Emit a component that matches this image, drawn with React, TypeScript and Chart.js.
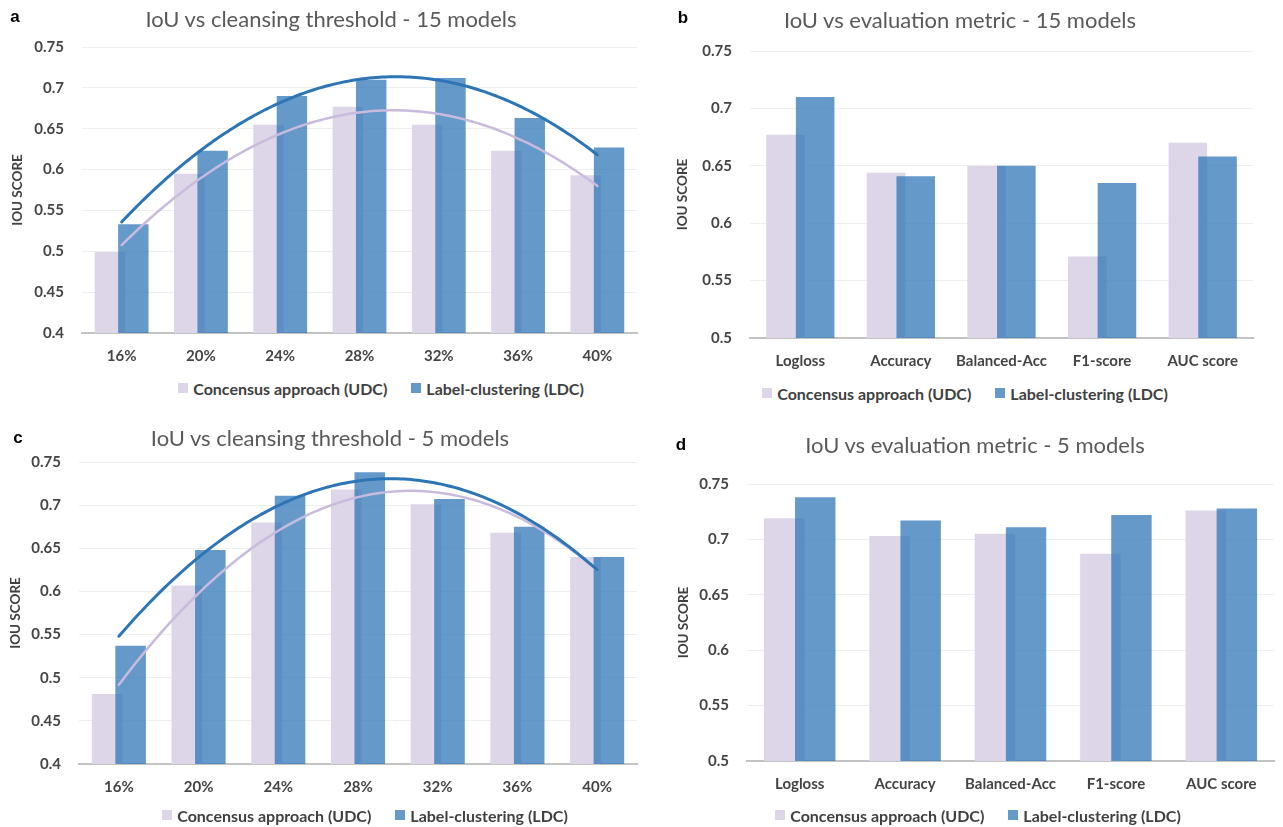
import React, { useEffect, useRef } from "react";
import { Chart, registerables } from "chart.js";

Chart.register(...registerables);

// ---------------- data ----------------
const thresholdLabels = ["16%", "20%", "24%", "28%", "32%", "36%", "40%"];
const metricLabels = ["Logloss", "Accuracy", "Balanced-Acc", "F1-score", "AUC score"];
const seriesNames = ["Concensus approach (UDC)", "Label-clustering (LDC)"];

const udcThreshold15 = [0.499, 0.595, 0.655, 0.677, 0.655, 0.623, 0.593];
const ldcThreshold15 = [0.533, 0.623, 0.69, 0.71, 0.712, 0.663, 0.627];

const udcMetric15 = [0.677, 0.644, 0.65, 0.571, 0.67];
const ldcMetric15 = [0.71, 0.641, 0.65, 0.635, 0.658];

const udcThreshold5 = [0.481, 0.607, 0.68, 0.718, 0.701, 0.668, 0.64];
const ldcThreshold5 = [0.537, 0.648, 0.711, 0.738, 0.707, 0.675, 0.64];

const udcMetric5 = [0.719, 0.703, 0.705, 0.687, 0.726];
const ldcMetric5 = [0.738, 0.717, 0.711, 0.722, 0.728];

// ---------------- styles ----------------
const UDC_COLOR = "#DDD5E8";
const LDC_COLOR = "rgba(46,117,182,0.74)";
const UDC_TREND = "#C9BBDE";
const LDC_TREND = "#2E75B6";
const FONT = "Lato, 'Open Sans', sans-serif";
const TICK_COLOR = "#444444";
const Y_TITLE_SIZE = 13.5;

type Rect = { left: number; top: number; width: number; height: number };
type Area = { left: number; right: number; top: number; bottom: number };
type PanelSpec = {
  letter: string;
  title: string;
  categories: string[];
  udc: number[];
  ldc: number[];
  yMin: number;
  yMax: number;
  trend: boolean;
  canvas: Rect;
  area: Area;
  titlePos: [number, number];
  letterPos: [number, number];
  legendPos: [number, number];
  yTitleX: number;
};

const panels: PanelSpec[] = [
  {
    letter: "a",
    title: "IoU vs cleansing threshold - 15 models",
    categories: thresholdLabels,
    udc: udcThreshold15,
    ldc: ldcThreshold15,
    yMin: 0.4,
    yMax: 0.75,
    trend: true,
    canvas: { left: 0, top: 0, width: 645, height: 375 },
    area: { left: 82, right: 637, top: 47, bottom: 333 },
    titlePos: [331, 19],
    letterPos: [15, 17],
    legendPos: [381, 388],
    yTitleX: 18,
  },
  {
    letter: "b",
    title: "IoU vs evaluation metric - 15 models",
    categories: metricLabels,
    udc: udcMetric15,
    ldc: ldcMetric15,
    yMin: 0.5,
    yMax: 0.75,
    trend: false,
    canvas: { left: 645, top: 0, width: 638, height: 375 },
    area: { left: 750, right: 1253, top: 51, bottom: 338 },
    titlePos: [960, 20],
    letterPos: [683, 18],
    legendPos: [965, 393],
    yTitleX: 683,
  },
  {
    letter: "c",
    title: "IoU vs cleansing threshold - 5 models",
    categories: thresholdLabels,
    udc: udcThreshold5,
    ldc: ldcThreshold5,
    yMin: 0.4,
    yMax: 0.75,
    trend: true,
    canvas: { left: 0, top: 405, width: 645, height: 400 },
    area: { left: 79, right: 637, top: 462, bottom: 764 },
    titlePos: [330, 438],
    letterPos: [18, 438],
    legendPos: [365, 815],
    yTitleX: 16,
  },
  {
    letter: "d",
    title: "IoU vs evaluation metric - 5 models",
    categories: metricLabels,
    udc: udcMetric5,
    ldc: ldcMetric5,
    yMin: 0.5,
    yMax: 0.75,
    trend: false,
    canvas: { left: 645, top: 405, width: 638, height: 400 },
    area: { left: 747, right: 1274, top: 484, bottom: 761 },
    titlePos: [975, 445],
    letterPos: [681, 445],
    legendPos: [978, 815],
    yTitleX: 684,
  },
];

// least-squares quadratic fit (Excel polynomial trendline, order 2)
function quadFit(vals: number[]): [number, number, number] {
  let s0 = 0, s1 = 0, s2 = 0, s3 = 0, s4 = 0, t0 = 0, t1 = 0, t2 = 0;
  vals.forEach((v, i) => {
    const x = i;
    s0 += 1; s1 += x; s2 += x * x; s3 += x * x * x; s4 += x * x * x * x;
    t0 += v; t1 += x * v; t2 += x * x * v;
  });
  const M = [
    [s0, s1, s2, t0],
    [s1, s2, s3, t1],
    [s2, s3, s4, t2],
  ];
  for (let c = 0; c < 3; c++) {
    for (let r = c + 1; r < 3; r++) {
      const f = M[r][c] / M[c][c];
      for (let k = c; k < 4; k++) M[r][k] -= f * M[c][k];
    }
  }
  const coef = [0, 0, 0];
  for (let r = 2; r >= 0; r--) {
    let s = M[r][3];
    for (let k = r + 1; k < 3; k++) s -= M[r][k] * coef[k];
    coef[r] = s / M[r][r];
  }
  return [coef[0], coef[1], coef[2]];
}

// draws the bars in dataset order (so the LDC bar sits over the UDC bar), then the trendlines
const orderedDrawPlugin = {
  id: "orderedDraw",
  beforeDatasetsDraw(chart: any, _args: any, opts: any) {
    const ctx = chart.ctx;
    const area = chart.chartArea;
    const metas = chart.getSortedVisibleDatasetMetas();
    ctx.save();
    ctx.beginPath();
    ctx.rect(area.left, area.top, area.right - area.left, area.bottom - area.top);
    ctx.clip();
    metas.forEach((m: any) => m.controller.draw());
    ctx.restore();
    if (opts && opts.trend) {
      const xs = chart.scales.x;
      const ys = chart.scales.y;
      chart.data.datasets.forEach((ds: any, i: number) => {
        const vals = ds.data as number[];
        const [a, b, c] = quadFit(vals);
        const n = vals.length;
        const steps = (n - 1) * 24;
        ctx.save();
        ctx.beginPath();
        for (let k = 0; k <= steps; k++) {
          const t = ((n - 1) * k) / steps;
          const v = a + b * t + c * t * t;
          const px = xs.getPixelForValue(t);
          const py = ys.getPixelForValue(v);
          if (k === 0) ctx.moveTo(px, py);
          else ctx.lineTo(px, py);
        }
        ctx.strokeStyle = opts.colors[i];
        ctx.lineWidth = opts.widths[i];
        ctx.lineCap = "round";
        ctx.lineJoin = "round";
        ctx.stroke();
        ctx.restore();
      });
    }
    return false;
  },
};

function Panel({ spec }: { spec: PanelSpec }) {
  const ref = useRef<HTMLCanvasElement>(null);
  useEffect(() => {
    const c = spec.canvas;
    const a = spec.area;
    const titleOffset = (Y_TITLE_SIZE * 1.2) / 2 + 4;
    const padLeft = spec.yTitleX - c.left - titleOffset;
    const yWidth = a.left - c.left - padLeft;
    const xHeight = c.top + c.height - a.bottom;
    const chart = new Chart(ref.current as HTMLCanvasElement, {
      type: "bar",
      data: {
        labels: spec.categories,
        datasets: [
          {
            label: seriesNames[0],
            data: spec.udc,
            backgroundColor: UDC_COLOR,
            categoryPercentage: 0.59,
            barPercentage: 1.3,
          },
          {
            label: seriesNames[1],
            data: spec.ldc,
            backgroundColor: LDC_COLOR,
            categoryPercentage: 0.59,
            barPercentage: 1.3,
          },
        ],
      },
      options: {
        responsive: false,
        animation: false,
        devicePixelRatio: 1,
        layout: {
          padding: {
            left: padLeft,
            right: c.left + c.width - a.right,
            top: a.top - c.top,
            bottom: 0,
          },
        },
        plugins: {
          legend: { display: false },
          title: { display: false },
          tooltip: { enabled: false },
          orderedDraw: {
            trend: spec.trend,
            colors: [UDC_TREND, LDC_TREND],
            widths: [2.5, 3],
          },
        } as any,
        scales: {
          x: {
            grid: { display: false, drawTicks: false },
            border: { display: true, color: "#C3C3C3", width: 2 },
            ticks: {
              color: TICK_COLOR,
              font: { family: FONT, size: 15, weight: "bold" },
              padding: 14,
              maxRotation: 0,
              autoSkip: false,
            },
            afterFit: (s: any) => {
              s.height = xHeight;
            },
          },
          y: {
            min: spec.yMin,
            max: spec.yMax,
            grid: { color: "#EFEFEF", lineWidth: 1, drawTicks: false },
            border: { display: false },
            ticks: {
              stepSize: 0.05,
              color: TICK_COLOR,
              font: { family: FONT, size: 15, weight: "bold" },
              padding: 18,
              callback: (v: any) => String(+Number(v).toFixed(2)),
            },
            title: {
              display: true,
              text: "IOU SCORE",
              color: "#404040",
              font: { family: FONT, size: Y_TITLE_SIZE, weight: "bold" },
              padding: { top: 4, bottom: 4 },
            },
            afterFit: (s: any) => {
              s.width = yWidth;
            },
          },
        },
      } as any,
      plugins: [orderedDrawPlugin as any],
    });
    return () => chart.destroy();
  }, [spec]);

  const c = spec.canvas;
  return (
    <canvas
      ref={ref}
      width={c.width}
      height={c.height}
      style={{ position: "absolute", left: c.left, top: c.top, width: c.width, height: c.height }}
    />
  );
}

function Overlay({ spec }: { spec: PanelSpec }) {
  const [tx, ty] = spec.titlePos;
  const [lx, ly] = spec.letterPos;
  const [gx, gy] = spec.legendPos;
  const marker = (color: string) => (
    <span style={{ display: "inline-block", width: 10, height: 10, background: color, marginRight: 5 }} />
  );
  return (
    <>
      <div
        style={{
          position: "absolute", left: tx - 300, top: ty - 14, width: 600, height: 28,
          lineHeight: "28px", textAlign: "center", fontFamily: FONT, fontSize: 22,
          color: "#595959", whiteSpace: "nowrap",
        }}
      >
        {spec.title}
      </div>
      <div
        style={{
          position: "absolute", left: lx - 10, top: ly - 11, width: 20, height: 22,
          lineHeight: "22px", textAlign: "center", fontFamily: "'Liberation Sans', Arial, sans-serif",
          fontWeight: "bold", fontSize: 17, color: "#000",
        }}
      >
        {spec.letter}
      </div>
      <div
        style={{
          position: "absolute", left: gx - 300, top: gy - 11, width: 600, height: 22,
          display: "flex", justifyContent: "center", alignItems: "center",
          fontFamily: FONT, fontWeight: "bold", fontSize: 16, color: "#404040", whiteSpace: "nowrap",
        }}
      >
        <span style={{ display: "inline-flex", alignItems: "center", marginRight: 24 }}>
          {marker(UDC_COLOR)}
          {seriesNames[0]}
        </span>
        <span style={{ display: "inline-flex", alignItems: "center" }}>
          {marker("#6499C9")}
          {seriesNames[1]}
        </span>
      </div>
    </>
  );
}

export default function App() {
  return (
    <div
      style={{
        position: "absolute", left: 0, top: 0, width: 1283, height: 827,
        background: "#ffffff", overflow: "hidden",
      }}
    >
      {panels.map((p) => (
        <Panel key={p.letter} spec={p} />
      ))}
      {panels.map((p) => (
        <Overlay key={"o" + p.letter} spec={p} />
      ))}
    </div>
  );
}
